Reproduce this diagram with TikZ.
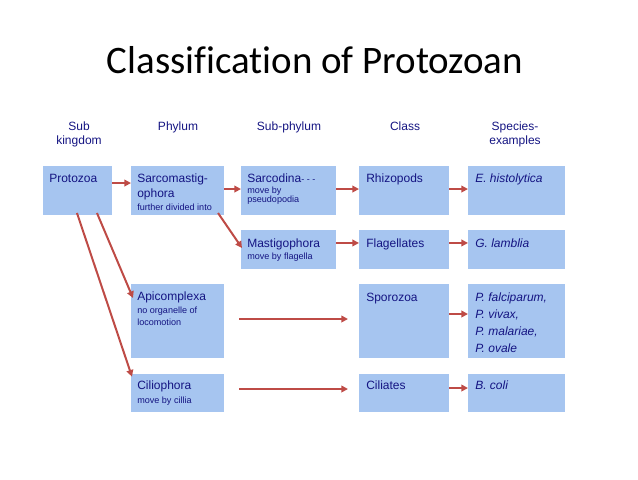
\documentclass[tikz,border=0pt]{standalone}
\usepackage{fontspec}
\setmainfont{Liberation Sans}
\newfontfamily\titlefont[Ligatures=NoCommon]{Carlito}
\usetikzlibrary{arrows.meta,fit}
\definecolor{boxc}{RGB}{166,197,240}
\definecolor{txtc}{RGB}{20,20,130}
\definecolor{arrc}{RGB}{190,75,70}
\begin{document}
\begin{tikzpicture}[x=0.75pt,y=-0.75pt,
  box/.style={fill=boxc, draw=none, inner sep=0pt, outer sep=0pt},
  lbl/.style={text=txtc, inner sep=0pt, anchor=base west, font=\fontsize{9}{10}\selectfont},
  sub/.style={text=txtc, inner sep=0pt, anchor=base west, font=\fontsize{6.8}{8}\selectfont},
  spc/.style={text=txtc, inner sep=0pt, anchor=base west, font=\fontsize{9}{10}\selectfont\itshape},
  hdr/.style={text=txtc, inner sep=0pt, anchor=base, font=\fontsize{9}{10}\selectfont},
  arr/.style={draw=arrc, line width=1.5pt, -{Triangle[length=5pt,width=5pt]}}]
\path[use as bounding box] (0,0) rectangle (638,479);

% title
\node[inner sep=0pt, anchor=base, font=\titlefont\fontsize{29.2}{32}\selectfont] (title) at (315,73) {Classification of Protozoan};

% headers
\node[hdr] (h1a) at (79,130) {Sub};
\node[hdr] (h1b) at (79,144) {kingdom};
\node[hdr] (h2) at (178,130) {Phylum};
\node[hdr] (h3) at (289,130) {Sub-phylum};
\node[hdr] (h4) at (405,130) {Class};
\node[hdr] (h5a) at (515,130) {Species-};
\node[hdr] (h5b) at (515,144) {examples};

% boxes
\node[box, fit={(43,166)(112,215)}] (proto) {};
\node[box, fit={(131,166)(224,215)}] (smast) {};
\node[box, fit={(241,166)(336,215)}] (sarcod) {};
\node[box, fit={(359,166)(449,215)}] (rhizo) {};
\node[box, fit={(468,166)(565,215)}] (ehist) {};

\node[box, fit={(241,230)(336,269)}] (mast) {};
\node[box, fit={(359,230)(449,269)}] (flag) {};
\node[box, fit={(468,230)(565,269)}] (glam) {};

\node[box, fit={(131,284)(224,358)}] (apic) {};
\node[box, fit={(359,284)(449,358)}] (sporo) {};
\node[box, fit={(468,284)(565,358)}] (pfalc) {};

\node[box, fit={(131,374)(224,412)}] (cilio) {};
\node[box, fit={(359,374)(449,412)}] (cilia) {};
\node[box, fit={(468,374)(565,412)}] (bcoli) {};

% texts
\node[lbl] (t1) at (49,182) {Protozoa};
\node[lbl] (t2a) at (137,182) {Sarcomastig-};
\node[lbl] (t2b) at (137,197) {ophora};
\node[sub] (t2c) at (137,210) {further divided into};
\node[lbl] (t3a) at (247,182) {Sarcodina{\fontsize{6.8}{8}\selectfont- - -}};
\node[sub] (t3b) at (247,193) {move by};
\node[sub] (t3c) at (247,202) {pseudopodia};
\node[lbl] (t4) at (366,182) {Rhizopods};
\node[spc] (t5) at (475,182) {E. histolytica};

\node[lbl] (t6a) at (247,247) {Mastigophora};
\node[sub] (t6b) at (247,259) {move by flagella};
\node[lbl] (t7) at (366,247) {Flagellates};
\node[spc] (t8) at (475,247) {G. lamblia};

\node[lbl] (t9a) at (137,300) {Apicomplexa};
\node[sub] (t9b) at (137,313) {no organelle of};
\node[sub] (t9c) at (137,325) {locomotion};
\node[lbl] (t10) at (366,301) {Sporozoa};
\node[spc] (t11a) at (475,301) {P. falciparum,};
\node[spc] (t11b) at (475,318) {P. vivax,};
\node[spc] (t11c) at (475,335) {P. malariae,};
\node[spc] (t11d) at (475,352) {P. ovale};

\node[lbl] (t12a) at (137,389) {Ciliophora};
\node[sub] (t12b) at (137,403) {move by cillia};
\node[lbl] (t13) at (366,389) {Ciliates};
\node[spc] (t14) at (475,389) {B. coli};

% horizontal arrows
\draw[arr] ([yshift=5.6pt]proto.east) -- ([yshift=5.6pt]smast.west);
\draw[arr] ([yshift=1.1pt]smast.east) -- ([yshift=1.1pt]sarcod.west);
\draw[arr] ([yshift=1.1pt]sarcod.east) -- ([yshift=1.1pt]rhizo.west);
\draw[arr] ([yshift=1.1pt]rhizo.east) -- ([yshift=1.1pt]ehist.west);
\draw[arr] ([yshift=4.9pt]mast.east) -- ([yshift=4.9pt]flag.west);
\draw[arr] ([yshift=4.9pt]flag.east) -- ([yshift=4.9pt]glam.west);
\draw[arr, shorten <=11.25pt, shorten >=8.25pt] ([yshift=1.5pt]apic.east) -- ([yshift=1.5pt]sporo.west);
\draw[arr] ([yshift=5.25pt]sporo.east) -- ([yshift=5.25pt]pfalc.west);
\draw[arr, shorten <=11.25pt, shorten >=8.25pt] ([yshift=3pt]cilio.east) -- ([yshift=3pt]cilia.west);
\draw[arr] ([yshift=3.75pt]cilia.east) -- ([yshift=3.75pt]bcoli.west);

% diagonal arrows
\draw[arr] ([xshift=30.4pt,yshift=1.5pt]smast.south) -- ([xshift=0.75pt,yshift=-13.5pt]mast.north west);
\draw[arr] ([xshift=14.6pt,yshift=1.5pt]proto.south) -- ([xshift=1.5pt,yshift=17.25pt]apic.west);
\draw[arr] ([xshift=-0.4pt,yshift=1.5pt]proto.south) -- ([xshift=0.75pt,yshift=-2pt]cilio.north west);
\end{tikzpicture}
\end{document}
